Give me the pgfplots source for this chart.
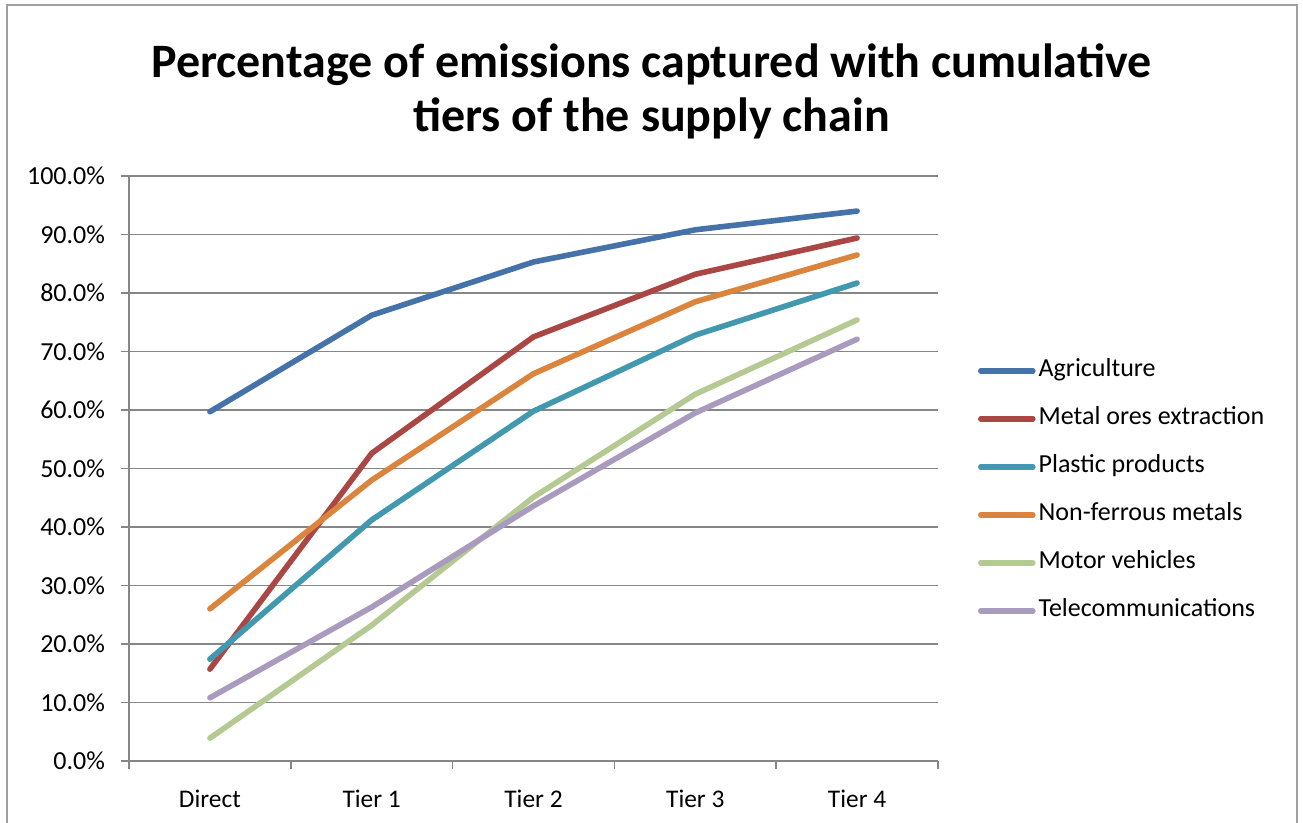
\documentclass[border=0pt]{standalone}
\usepackage{pgfplots}
\pgfplotsset{compat=1.18}
\usepackage{fontspec}
\setmainfont{Carlito}
\definecolor{cAg}{HTML}{4572A8}
\definecolor{cMe}{HTML}{AA4643}
\definecolor{cPl}{HTML}{4198AF}
\definecolor{cNf}{HTML}{DB843D}
\definecolor{cMv}{HTML}{B5CA92}
\definecolor{cTe}{HTML}{A99BBD}
\definecolor{gridgray}{HTML}{868686}
\definecolor{framegray}{HTML}{A0A0A0}
\begin{document}
\begin{tikzpicture}[x=1pt,y=1pt]
\useasboundingbox (0,0) rectangle (651.5,411.5);
\draw[color=framegray, line width=1pt] (3.5,-3) -- (3.5,409) -- (648.5,409) -- (648.5,-3);
\node[font=\fontsize{24}{29}\selectfont\bfseries, anchor=base, inner sep=0pt] at (325.75,372.5) {Percentage of emissions captured with cumulative};
\node[font=\fontsize{24}{29}\selectfont\bfseries, anchor=base, inner sep=0pt] at (325.75,345.5) {tiers of the supply chain};
\begin{axis}[
  at={(64.5pt,31pt)}, anchor=south west,
  scale only axis, width=404.5pt, height=292.5pt,
  xmin=-0.5, xmax=4.5, ymin=0, ymax=100,
  axis x line=bottom, axis y line=left,
  axis line style={-, draw=gridgray, line width=0.75pt},
  xtick={-0.5,0.5,1.5,2.5,3.5,4.5},
  xticklabels={Direct,Tier 1,Tier 2,Tier 3,Tier 4},
  x tick label as interval,
  ytick={0,10,...,100},
  yticklabels={0.0\%,10.0\%,20.0\%,30.0\%,40.0\%,50.0\%,60.0\%,70.0\%,80.0\%,90.0\%,100.0\%},
  tick align=outside, major tick length=4pt,
  tick style={draw=gridgray, line width=0.75pt},
  ymajorgrids, grid style={draw=gridgray, line width=0.75pt},
  xticklabel style={font=\fontsize{12.7}{14}\selectfont, yshift=-7pt},
  yticklabel style={font=\fontsize{13}{15}\selectfont, xshift=-4.5pt},
  legend style={at={(1.049,0.462)}, anchor=west, draw=none, fill=none, inner sep=0pt,
    font=\fontsize{13}{15}\selectfont, row sep=10.5pt,
    nodes={inner sep=1.5pt, text depth=2.5pt, text height=8pt}},
  legend cell align=left,
  legend image code/.code={\draw[#1] (0pt,0pt) -- (26pt,0pt);},
  every axis plot/.append style={line width=2.8pt, line cap=round, line join=round},
]
\addplot[cAg] coordinates {(0,59.7)(1,76.2)(2,85.3)(3,90.8)(4,94.0)};
\addlegendentry{Agriculture}
\addplot[cMe] coordinates {(0,15.7)(1,52.6)(2,72.5)(3,83.2)(4,89.4)};
\addlegendentry{Metal ores extraction}
\addplot[cPl] coordinates {(0,17.4)(1,41.2)(2,59.8)(3,72.8)(4,81.7)};
\addlegendentry{Plastic products}
\addplot[cNf] coordinates {(0,26.0)(1,48.0)(2,66.2)(3,78.5)(4,86.5)};
\addlegendentry{Non-ferrous metals}
\addplot[cMv] coordinates {(0,3.9)(1,23.2)(2,45.1)(3,62.7)(4,75.4)};
\addlegendentry{Motor vehicles}
\addplot[cTe] coordinates {(0,10.8)(1,26.3)(2,43.6)(3,59.5)(4,72.1)};
\addlegendentry{Telecommunications}
\end{axis}
\end{tikzpicture}
\end{document}
